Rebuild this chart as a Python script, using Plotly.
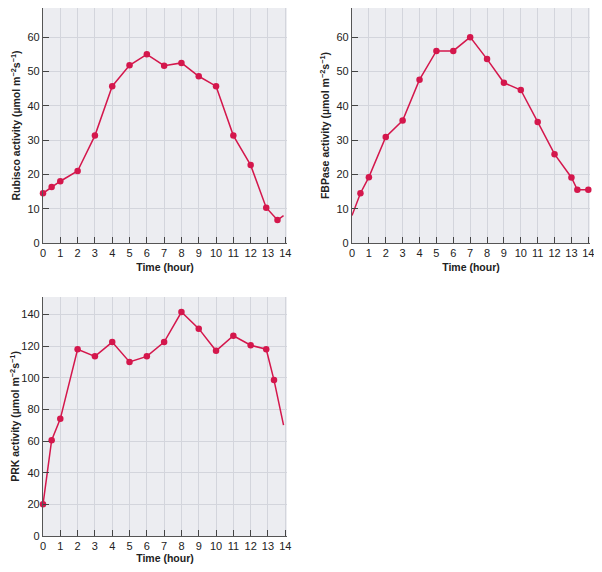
import plotly.graph_objects as go

# Rubisco activity over the day
rubisco_hours = [0, 0.5, 1, 2, 3, 4, 5, 6, 7, 8, 9, 10, 11, 12, 12.9, 13.55, 13.9]
rubisco_vals = [14.5, 16.3, 18, 21, 31.3, 45.7, 51.8, 55, 51.7, 52.5, 48.6, 45.7, 31.3, 22.7, 10.3, 6.7, 8]
rubisco_marked = [True] * 16 + [False]

# FBPase activity over the day
fbpase_hours = [0, 0.5, 1, 2, 3, 4, 5, 6, 7, 8, 9, 10, 11, 12, 13, 13.35, 14]
fbpase_vals = [8, 14.5, 19.2, 30.9, 35.7, 47.6, 56, 56, 60, 53.6, 46.7, 44.6, 35.3, 25.9, 19.1, 15.5, 15.5]
fbpase_marked = [False] + [True] * 16

# PRK activity over the day
prk_hours = [0, 0.5, 1, 2, 3, 4, 5, 6, 7, 8, 9, 10, 11, 12, 12.9, 13.35, 13.9]
prk_vals = [20, 60.5, 74, 118, 113.5, 122.5, 110, 113.5, 122.5, 141.5, 131, 117, 126.5, 120.5, 118, 98.5, 70]
prk_marked = [True] * 16 + [False]

x_ticks = list(range(0, 15))

RED = "#d4174c"
FONT = "Liberation Sans, Arial, sans-serif"

# the page puts the figure 8px in from the top-left corner
W, H = 594, 556

def xdom(a, b):
    return [(a - 8) / W, (b - 8) / W]

def ydom(top, bottom):
    return [max(0, 1 - (bottom - 8) / H), min(1, 1 - (top - 8) / H)]

fig = go.Figure()

panels = [
    (rubisco_hours, rubisco_vals, rubisco_marked, "x", "y"),
    (fbpase_hours, fbpase_vals, fbpase_marked, "x2", "y2"),
    (prk_hours, prk_vals, prk_marked, "x3", "y3"),
]
for hours, vals, marked, xa, ya in panels:
    # connecting line through every point
    fig.add_trace(go.Scatter(x=hours, y=vals, mode="lines", xaxis=xa, yaxis=ya,
                             line=dict(color=RED, width=1.5), showlegend=False,
                             cliponaxis=False))
    # dots only on the measured points
    fig.add_trace(go.Scatter(x=[h for h, m in zip(hours, marked) if m],
                             y=[v for v, m in zip(vals, marked) if m],
                             mode="markers", xaxis=xa, yaxis=ya,
                             marker=dict(color=RED, size=6.5), showlegend=False,
                             cliponaxis=False))

def xaxis_style(domain, anchor):
    return dict(domain=domain, anchor=anchor, range=[0, 14.1], tickvals=x_ticks,
                automargin=False,
                showgrid=True, gridcolor="#d3d5dc", gridwidth=1,
                showline=True, linecolor="#555555", linewidth=1.2,
                ticks="inside", ticklen=6, tickcolor="#444444",
                tickfont=dict(size=11, color="#222222"), zeroline=False,
                title=dict(text="<b>Time (hour)</b>", font=dict(size=10.5, color="#222222"), standoff=5))

def yaxis_style(domain, anchor, rng, dtick, label):
    return dict(domain=domain, anchor=anchor, range=rng, dtick=dtick,
                automargin=False,
                showgrid=True, gridcolor="#d3d5dc", gridwidth=1,
                showline=True, linecolor="#555555", linewidth=1.2,
                ticks="inside", ticklen=6, tickcolor="#444444",
                tickfont=dict(size=11, color="#222222"), zeroline=False,
                title=dict(text="<b>" + label + " activity (\u00b5mol m<sup>\u22122</sup>s<sup>\u22121</sup>)</b>",
                           font=dict(size=10.5, color="#222222"), standoff=4))

top = ydom(8, 243)
bottom = ydom(297, 536)
left = xdom(43, 287)
right = xdom(352, 590)

fig.update_layout(
    width=W, height=H,
    margin=dict(l=0, r=0, t=0, b=0),
    paper_bgcolor="white",
    plot_bgcolor="#ecedf1",
    font=dict(family=FONT, color="#222222"),
    xaxis=xaxis_style(left, "y"),
    yaxis=yaxis_style(top, "x", [0, 68.5], 10, "Rubisco"),
    xaxis2=xaxis_style(right, "y2"),
    yaxis2=yaxis_style(top, "x2", [0, 68.5], 10, "FBPase"),
    xaxis3=xaxis_style(left, "y3"),
    yaxis3=yaxis_style(bottom, "x3", [0, 151], 20, "PRK"),
)

fig.write_html("out.html")
